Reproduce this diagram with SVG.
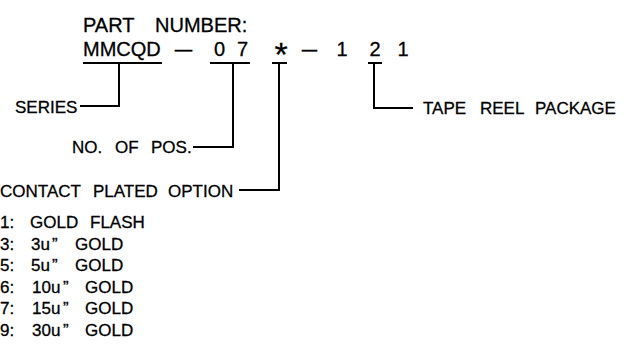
<svg xmlns="http://www.w3.org/2000/svg" width="629" height="351" viewBox="0 0 629 351">
<style>
text{font-family:"Liberation Sans",Arial,sans-serif;fill:#000;stroke:#000;stroke-width:0.3}
.big{font-size:20px}
.lbl{font-size:17px}
.dash{font-size:20px}
.ln{stroke:#000;stroke-width:2;fill:none}
</style>
<rect width="629" height="351" fill="#fff"/>
<g id="part-number">
<text class="big" y="32"><tspan x="83">PART</tspan><tspan x="155">NUMBER:</tspan></text>
<text class="big" y="56"><tspan x="83">MMCQD</tspan><tspan x="214">0</tspan><tspan x="237">7</tspan><tspan x="281" y="66" font-size="34" text-anchor="middle">*</tspan><tspan x="342" y="56" text-anchor="middle">1</tspan><tspan x="375" text-anchor="middle">2</tspan><tspan x="403" text-anchor="middle">1</tspan></text>
<text class="dash" x="175" y="55.5" textLength="17" lengthAdjust="spacingAndGlyphs" style="stroke-width:0.5">–</text>
<text class="dash" x="302" y="55.5" textLength="15" lengthAdjust="spacingAndGlyphs" style="stroke-width:0.5">–</text>
</g>
<g id="series"><text class="lbl" x="15" y="113">SERIES</text></g>
<g id="no-of-pos"><text class="lbl" y="153"><tspan x="72">NO.</tspan><tspan x="115">OF</tspan><tspan x="151">POS.</tspan></text></g>
<g id="contact-plated-option"><text class="lbl" y="197"><tspan x="0">CONTACT</tspan><tspan x="93">PLATED</tspan><tspan x="168">OPTION</tspan></text></g>
<g id="tape-reel-package"><text class="lbl" y="114"><tspan x="423">TAPE</tspan><tspan x="480">REEL</tspan><tspan x="535">PACKAGE</tspan></text></g>
<g id="options">
<text class="lbl" y="228"><tspan x="0">1:</tspan><tspan x="30">GOLD</tspan><tspan x="90">FLASH</tspan></text>
<text class="lbl" y="249.5"><tspan x="0">3:</tspan><tspan x="31">3u</tspan><tspan x="52">”</tspan><tspan x="75">GOLD</tspan></text>
<text class="lbl" y="271"><tspan x="0">5:</tspan><tspan x="31">5u</tspan><tspan x="52">”</tspan><tspan x="75">GOLD</tspan></text>
<text class="lbl" y="292.5"><tspan x="0">6:</tspan><tspan x="32">10u</tspan><tspan x="63">”</tspan><tspan x="85">GOLD</tspan></text>
<text class="lbl" y="314"><tspan x="0">7:</tspan><tspan x="32">15u</tspan><tspan x="63">”</tspan><tspan x="85">GOLD</tspan></text>
<text class="lbl" y="335.5"><tspan x="0">9:</tspan><tspan x="32">30u</tspan><tspan x="63">”</tspan><tspan x="85">GOLD</tspan></text>
</g>
<g id="connectors" class="ln">
<path class="ln" d="M83 63H162M119 63V106H80"/>
<path class="ln" d="M210 63H250M233 63V147H193"/>
<path class="ln" d="M272 63H287M279 63V190H239"/>
<path class="ln" d="M368 63H382M374 63V108H413"/>
</g>
</svg>
